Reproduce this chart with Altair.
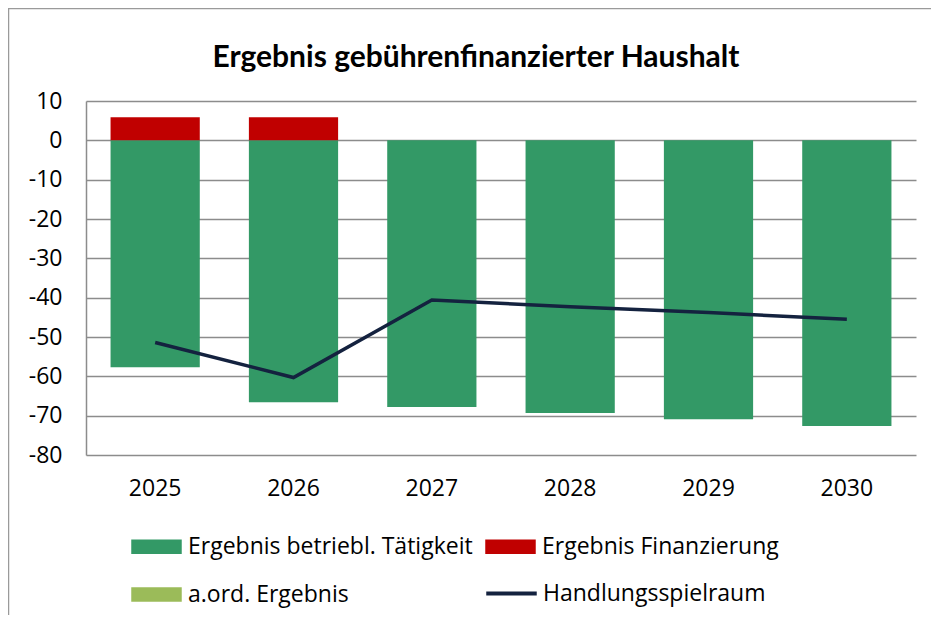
import altair as alt
import pandas as pd

years = ["2025", "2026", "2027", "2028", "2029", "2030"]
betrieb = [-57.7, -66.6, -67.8, -69.3, -70.9, -72.6]
finanz = [5.9, 5.9, 0, 0, 0, 0]
aord = [0, 0, 0, 0, 0, 0]
spielraum = [-51.4, -60.3, -40.6, -42.3, -43.8, -45.5]
y_ticks = [-80, -70, -60, -50, -40, -30, -20, -10, 0, 10]

bar_series = ["Ergebnis betriebl. Tätigkeit", "Ergebnis Finanzierung", "a.ord. Ergebnis"]
bar_colors = ["#339966", "#C00000", "#9BBB59"]
line_name = "Handlungsspielraum"
line_color = "#14223F"

rows = []
for name, vals in zip(bar_series, [betrieb, finanz, aord]):
    for y, v in zip(years, vals):
        rows.append({"Jahr": y, "Serie": name, "Wert": v, "ord": bar_series.index(name)})
bars_df = pd.DataFrame(rows)
line_df = pd.DataFrame({"Jahr": years, "Wert": spielraum, "Serie": [line_name] * len(years)})

FONT = "Open Sans"
TFONT = "Lato"
rect_path = "M-1,-0.29L1,-0.29L1,0.29L-1,0.29Z"

x_axis = alt.Axis(labelAngle=0, labelFont=FONT, labelFontSize=23, labelColor="#000000",
                  labelPadding=22, ticks=False, domain=False, grid=False)
y_axis = alt.Axis(values=y_ticks, tickCount=10, labelFont=FONT, labelFontSize=23,
                  labelExpr="'' + datum.value",
                  labelColor="#000000", labelPadding=24, ticks=False, labelOverlap=False,
                  domain=True, domainColor="#8c8c8c", domainWidth=1.5,
                  grid=True, gridColor="#8c8c8c", gridWidth=1.5)
x_scale = alt.Scale(paddingInner=0.355, paddingOuter=0.1775)
y_scale = alt.Scale(domain=[-80, 10], nice=False, zero=False)

bars = alt.Chart(bars_df).mark_bar().encode(
    x=alt.X("Jahr:N", sort=years, title=None, scale=x_scale, axis=x_axis),
    y=alt.Y("Wert:Q", stack="zero", title=None, scale=y_scale, axis=y_axis),
    color=alt.Color("Serie:N", scale=alt.Scale(domain=bar_series, range=bar_colors),
                    legend=alt.Legend(title=None, orient="none", legendX=45, legendY=420,
                                      columns=2, direction="horizontal",
                                      symbolType=rect_path, symbolSize=2550,
                                      symbolStrokeWidth=0, symbolOpacity=1,
                                      labelFont=FONT, labelFontSize=23, labelColor="#000000",
                                      labelOffset=6, columnPadding=12, rowPadding=10,
                                      labelLimit=400)),
    order=alt.Order("ord:Q"),
)

line = alt.Chart(line_df).mark_line(strokeWidth=3.5).encode(
    x=alt.X("Jahr:N", sort=years, title=None, scale=x_scale, axis=x_axis),
    y=alt.Y("Wert:Q", title=None, scale=y_scale, axis=y_axis),
    stroke=alt.Stroke("Serie:N", scale=alt.Scale(domain=[line_name], range=[line_color]),
                      legend=alt.Legend(title=None, orient="none", legendX=400, legendY=467,
                                        symbolType="M-1,-0.08L1,-0.08L1,0.08L-1,0.08Z",
                                        symbolSize=2550, symbolStrokeWidth=0,
                                        symbolFillColor=line_color,
                                        labelFont=FONT, labelFontSize=23, labelColor="#000000",
                                        labelOffset=6, labelLimit=400)),
)

border = alt.Chart(pd.DataFrame({"a": [0]})).mark_rect(
    fill="transparent", stroke="#9a9a9a", strokeWidth=1.5, clip=False
).encode(x=alt.value(-77.5), x2=alt.value(900), y=alt.value(-92.5), y2=alt.value(600))

chart = alt.layer(border, bars, line).resolve_scale(color="independent").properties(
    width=830, height=354,
    autosize=alt.AutoSizeParams(type="none"),
    padding={"left": 78, "top": 93, "right": 15, "bottom": 160},
    title=alt.TitleParams("Ergebnis gebührenfinanzierter Haushalt", font=TFONT, fontSize=30,
                          fontWeight="bold", color="#000000", anchor="middle", dx=-25,
                          baseline="alphabetic", offset=-89),
).configure_view(stroke=None)

chart.save("out.html", embed_options={"renderer": "svg", "actions": False})
